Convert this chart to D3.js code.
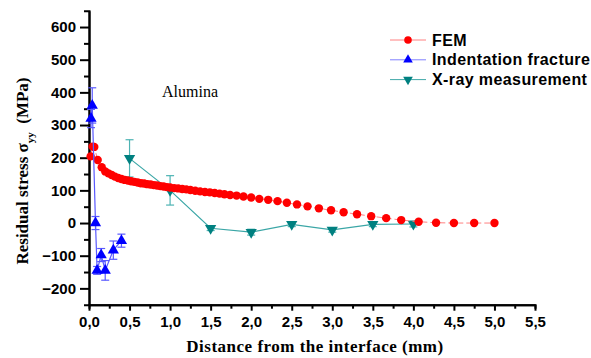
<!DOCTYPE html>
<html>
<head>
<meta charset="utf-8">
<script src="https://cdn.jsdelivr.net/npm/d3@7"></script>
<style>
  body { margin: 0; background: #fff; }
  .axis path, .axis line { stroke: #000; stroke-width: 2px; }
  .axis text { font-family: "Liberation Sans", Arial, sans-serif; font-weight: bold; font-size: 15px; fill: #000; }
</style>
</head>
<body>
<div class="chart"></div>
<script>
var width = 591, height = 358;

// FEM simulation
var femX = [0.02, 0.045, 0.065, 0.107, 0.157, 0.2, 0.24, 0.28, 0.32, 0.36, 0.40, 0.44, 0.48, 0.52, 0.56, 0.60,
  0.64, 0.68, 0.72, 0.76, 0.80, 0.84, 0.88, 0.92, 0.96, 1.00, 1.05, 1.10, 1.15, 1.20, 1.25, 1.31, 1.37, 1.43,
  1.49, 1.55, 1.61, 1.67, 1.74, 1.82, 1.905, 2.0, 2.1, 2.21, 2.325, 2.44, 2.565, 2.695, 2.835, 2.985, 3.14,
  3.305, 3.48, 3.665, 3.85, 4.065, 4.28, 4.5, 4.75, 5.0];
var femY = [204, 234, 233, 193, 171, 158, 152, 147, 142, 138, 135, 132, 130, 128, 126, 124,
  122, 121, 119, 118, 116, 115, 113, 112, 110, 109, 107, 106, 104, 103, 101, 99, 97, 95,
  94, 92, 90, 88, 86, 84, 81, 78, 74, 71, 67, 62, 57, 51, 45, 39, 33,
  27, 21, 15, 9, 4, 1, 0, 0, 0];

// indentation fracture
var indX = [0.025, 0.04, 0.08, 0.1, 0.15, 0.2, 0.3, 0.4];
var indY = [320, 360, 0, -145, -98, -145, -83, -54];
var indErr = [28, 54, 20, 12, 20, 30, 28, 20];

// X-ray measurement
var xrX = [0.5, 1.0, 1.5, 2.0, 2.5, 3.0, 3.5, 4.0];
var xrY = [198, 100, -16, -28, -4, -21, -4, -3];
var xrErr = [57, 45, 7, 9, 7, 7, 7, 9];

var xTicks = [0, 0.5, 1, 1.5, 2, 2.5, 3, 3.5, 4, 4.5, 5, 5.5];
var xMinor = [0.25, 0.75, 1.25, 1.75, 2.25, 2.75, 3.25, 3.75, 4.25, 4.75, 5.25];
var yTicks = [-200, -100, 0, 100, 200, 300, 400, 500, 600];
var yMinor = [-150, -50, 50, 150, 250, 350, 450, 550];

var red = '#ff0000', blue = '#0000ff', teal = '#008080';

var svg = d3.select('.chart').append('svg')
  .attr('width', width)
  .attr('height', height);

var x = d3.scaleLinear().domain([0, 5.5]).range([89, 535]);
var y = d3.scaleLinear().domain([-250, 650]).range([304.7, 10.7]);

var fmtX = function (d) { return d3.format('.1f')(d).replace('.', ','); };

// axes
svg.append('g').attr('class', 'axis')
  .attr('transform', 'translate(0,' + y(-250) + ')')
  .call(d3.axisBottom(x).tickValues(xMinor).tickSize(4).tickFormat(''));
svg.append('g').attr('class', 'axis')
  .attr('transform', 'translate(0,' + y(-250) + ')')
  .call(d3.axisBottom(x).tickValues(xTicks).tickSize(6).tickSizeOuter(0).tickPadding(6).tickFormat(fmtX));

svg.append('g').attr('class', 'axis')
  .attr('transform', 'translate(' + x(0) + ',0)')
  .call(d3.axisLeft(y).tickValues(yMinor).tickSize(5).tickFormat(''));
svg.append('g').attr('class', 'axis')
  .attr('transform', 'translate(' + x(0) + ',0)')
  .call(d3.axisLeft(y).tickValues(yTicks).tickSize(9).tickSizeOuter(0).tickPadding(4).tickFormat(d3.format('d')));

// axis titles
var yLabel = svg.append('text')
  .attr('transform', 'translate(28,' + 171 + ')rotate(-90)')
  .style('text-anchor', 'middle')
  .style('font-family', '"Liberation Serif", "Times New Roman", serif')
  .style('font-weight', 'bold')
  .style('font-size', '17px');
yLabel.append('tspan').text('Residual stress \u03c3');
yLabel.append('tspan').attr('dy', 6).style('font-size', '11px').text('yy');
yLabel.append('tspan').attr('dy', -6).text('\u00a0\u00a0(MPa)');

svg.append('text')
  .attr('x', 315).attr('y', 352)
  .style('text-anchor', 'middle')
  .style('font-family', '"Liberation Serif", "Times New Roman", serif')
  .style('font-weight', 'bold')
  .style('font-size', '17px')
  .style('letter-spacing', '0.5px')
  .text('Distance from the interface (mm)');

svg.append('text')
  .attr('x', 162).attr('y', 97)
  .style('font-family', '"Liberation Serif", "Times New Roman", serif')
  .style('font-size', '16px')
  .text('Alumina');

var line = d3.line()
  .x(function (d) { return x(d[0]); })
  .y(function (d) { return y(d[1]); });

var fem = femX.map(function (v, i) { return [v, femY[i]]; });
var ind = indX.map(function (v, i) { return [v, indY[i], indErr[i]]; });
var xr = xrX.map(function (v, i) { return [v, xrY[i], xrErr[i]]; });

// X-ray
svg.append('path').datum(xr)
  .attr('d', line).attr('fill', 'none')
  .attr('stroke', '#3aa6a6').attr('stroke-width', 1.2);
function errBars(data, color) {
  var g = svg.append('g').attr('stroke', color).attr('stroke-width', 1.2);
  data.forEach(function (d) {
    var cx = x(d[0]);
    g.append('line').attr('x1', cx).attr('x2', cx).attr('y1', y(d[1] - d[2])).attr('y2', y(d[1] + d[2]));
    g.append('line').attr('x1', cx - 4).attr('x2', cx + 4).attr('y1', y(d[1] - d[2])).attr('y2', y(d[1] - d[2]));
    g.append('line').attr('x1', cx - 4).attr('x2', cx + 4).attr('y1', y(d[1] + d[2])).attr('y2', y(d[1] + d[2]));
  });
}
errBars(xr, '#4db3b3');
var triDown = d3.symbol().type(d3.symbolTriangle).size(55);
svg.selectAll('.xr').data(xr).enter().append('path')
  .attr('class', 'xr')
  .attr('d', triDown)
  .attr('transform', function (d) { return 'translate(' + x(d[0]) + ',' + y(d[1]) + ')rotate(180)'; })
  .attr('fill', teal);

// FEM
svg.append('path').datum(fem)
  .attr('d', line).attr('fill', 'none')
  .attr('stroke', '#ff8080').attr('stroke-width', 1)
  .attr('stroke-dasharray', '6,3');
svg.selectAll('.fem').data(fem).enter().append('circle')
  .attr('class', 'fem')
  .attr('cx', function (d) { return x(d[0]); })
  .attr('cy', function (d) { return y(d[1]); })
  .attr('r', 4.2)
  .attr('fill', red);

// indentation
svg.append('path').datum(ind)
  .attr('d', line).attr('fill', 'none')
  .attr('stroke', '#5a5aff').attr('stroke-width', 1.2);
errBars(ind, '#5a5aff');
var triUp = d3.symbol().type(d3.symbolTriangle).size(55);
svg.selectAll('.ind').data(ind).enter().append('path')
  .attr('class', 'ind')
  .attr('d', triUp)
  .attr('transform', function (d) { return 'translate(' + x(d[0]) + ',' + y(d[1]) + ')'; })
  .attr('fill', blue);

// legend
var legend = [
  { name: 'FEM', line: '#ff8080', color: red, shape: 'circle' },
  { name: 'Indentation fracture', line: '#8080ff', color: blue, shape: 'up' },
  { name: 'X-ray measurement', line: '#40a8a8', color: teal, shape: 'down' }
];
var lg = svg.append('g').attr('transform', 'translate(390,40)');
legend.forEach(function (d, i) {
  var row = lg.append('g').attr('transform', 'translate(0,' + (i * 19.8) + ')');
  row.append('line').attr('x1', 0).attr('x2', 36).attr('stroke', d.line).attr('stroke-width', 1);
  if (d.shape === 'circle') {
    row.append('circle').attr('cx', 18).attr('r', 3.8).attr('fill', d.color);
  } else {
    row.append('path').attr('d', d3.symbol().type(d3.symbolTriangle).size(40))
      .attr('transform', 'translate(18,0)' + (d.shape === 'down' ? 'rotate(180)' : ''))
      .attr('fill', d.color);
  }
  row.append('text').attr('x', 42).attr('y', 5.5)
    .style('font-family', '"Liberation Sans", Arial, sans-serif')
    .style('font-weight', 'bold')
    .style('font-size', '16px')
    .style('letter-spacing', '0.4px')
    .text(d.name);
});
</script>
</body>
</html>
